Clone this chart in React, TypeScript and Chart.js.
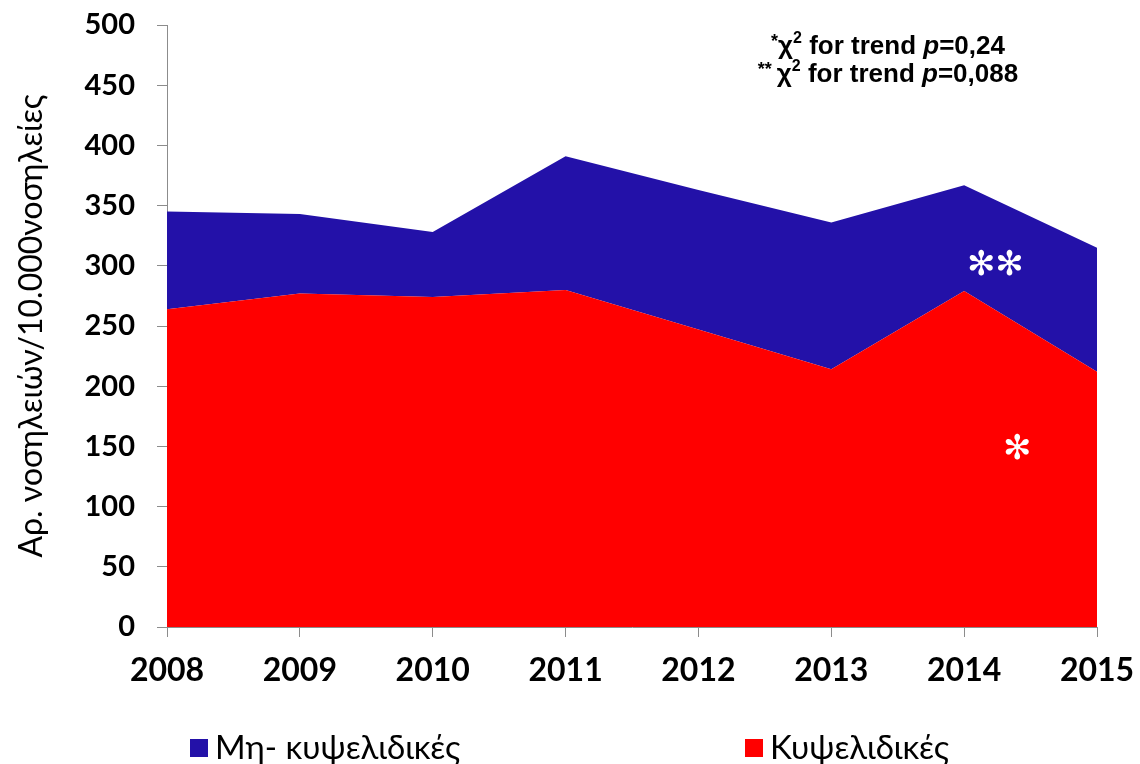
import React, { useEffect, useRef } from "react";
import { Chart, registerables } from "chart.js";

Chart.register(...registerables);

const years = ["2008", "2009", "2010", "2011", "2012", "2013", "2014", "2015"];
// Κυψελιδικές (cellular) – bottom layer
const cellular = [264, 277, 274, 280, 247, 214, 279, 212];
// Μη- κυψελιδικές (non-cellular) – stacked on top
const nonCellular = [81, 66, 54, 111, 116, 122, 88, 103];
const yTicks = [0, 50, 100, 150, 200, 250, 300, 350, 400, 450, 500];

const BLUE = "#2311A8";
const RED = "#FF0000";
const AXIS = "#8c8c8c";

type Seg = { t: string; f: string; dy?: number };

function drawRich(ctx: CanvasRenderingContext2D, segs: Seg[], cx: number, base: number) {
  let total = 0;
  for (const s of segs) {
    ctx.font = s.f;
    total += ctx.measureText(s.t).width;
  }
  let x = cx - total / 2;
  ctx.textAlign = "left";
  ctx.textBaseline = "alphabetic";
  for (const s of segs) {
    ctx.font = s.f;
    ctx.fillText(s.t, x, base + (s.dy || 0));
    x += ctx.measureText(s.t).width;
  }
}

const overlayPlugin = {
  id: "overlay",
  afterDraw(chart: any) {
    const ctx: CanvasRenderingContext2D = chart.ctx;
    const xs = chart.scales.x;
    const ys = chart.scales.y;
    ctx.save();
    // statistics note
    ctx.fillStyle = "#000";
    const B = "bold 26px 'Liberation Sans', Arial, sans-serif";
    const BI = "italic bold 26px 'Liberation Sans', Arial, sans-serif";
    const SUP = "bold 16px 'Liberation Sans', Arial, sans-serif";
    const AST = "bold 18px 'Liberation Sans', Arial, sans-serif";
    drawRich(ctx, [
      { t: "*", f: AST, dy: -7 },
      { t: "χ", f: B },
      { t: "2", f: SUP, dy: -11 },
      { t: " for trend ", f: B },
      { t: "p", f: BI },
      { t: "=0,24", f: B },
    ], 888, 54);
    drawRich(ctx, [
      { t: "** ", f: AST, dy: -7 },
      { t: "χ", f: B },
      { t: "2", f: SUP, dy: -11 },
      { t: " for trend ", f: B },
      { t: "p", f: BI },
      { t: "=0,088", f: B },
    ], 888, 82);

    // white asterisks on the areas
    const x6 = xs.getPixelForValue(6);
    const step = xs.getPixelForValue(7) - x6;
    ctx.fillStyle = "#ffffff";
    ctx.textAlign = "center";
    ctx.textBaseline = "middle";
    ctx.font = "34px 'DejaVu Sans', sans-serif";
    ctx.fillText("✻✻", x6 + step * 0.235, ys.getPixelForValue(300));
    ctx.fillText("✻", x6 + step * 0.4, ys.getPixelForValue(147));

    // legend
    const items = [
      { label: chart.data.datasets[1].label, color: chart.data.datasets[1].backgroundColor, x: 190 },
      { label: chart.data.datasets[0].label, color: chart.data.datasets[0].backgroundColor, x: 745 },
    ];
    ctx.font = "33px Lato, sans-serif";
    ctx.textAlign = "left";
    ctx.textBaseline = "middle";
    for (const it of items) {
      ctx.fillStyle = it.color;
      ctx.fillRect(it.x, 739, 18, 18);
      ctx.fillStyle = "#000";
      ctx.fillText(it.label, it.x + 25, 748);
    }
    ctx.restore();
  },
};

export default function App() {
  const ref = useRef<HTMLCanvasElement | null>(null);
  useEffect(() => {
    document.body.style.margin = "0";
    const canvas = ref.current;
    if (!canvas) return;
    const chart = new Chart(canvas, {
      type: "line",
      data: {
        labels: years,
        datasets: [
          {
            label: "Κυψελιδικές",
            data: cellular,
            backgroundColor: RED,
            borderColor: RED,
            borderWidth: 0,
            pointRadius: 0,
            fill: "origin",
            tension: 0,
          },
          {
            label: "Μη- κυψελιδικές",
            data: nonCellular,
            backgroundColor: BLUE,
            borderColor: BLUE,
            borderWidth: 0,
            pointRadius: 0,
            fill: "-1",
            tension: 0,
          },
        ],
      },
      options: {
        animation: false,
        responsive: true,
        maintainAspectRatio: false,
        layout: { padding: { top: 25, right: 43, bottom: 77, left: 0 } },
        plugins: {
          legend: { display: false },
          tooltip: { enabled: false },
        },
        scales: {
          x: {
            type: "category",
            offset: false,
            grid: { display: true, drawOnChartArea: false, drawTicks: true, tickLength: 10, color: AXIS },
            border: { display: true, color: AXIS, width: 1 },
            ticks: {
              color: "#000",
              padding: 14,
              maxRotation: 0,
              font: { family: "Lato", weight: "bold", size: 32 },
            },
            afterFit(scale: any) {
              scale.height = 60;
              scale.paddingLeft = 0;
              scale.paddingRight = 0;
            },
          },
          y: {
            stacked: true,
            min: 0,
            max: 500,
            afterBuildTicks(scale: any) {
              scale.ticks = yTicks.map((v) => ({ value: v }));
            },
            grid: { display: true, drawOnChartArea: false, drawTicks: true, tickLength: 10, color: AXIS },
            border: { display: true, color: AXIS, width: 1 },
            ticks: {
              color: "#000",
              padding: 22,
              font: { family: "Lato", weight: "bold", size: 29 },
            },
            title: {
              display: true,
              text: "Αρ. νοσηλειών/10.000νοσηλείες",
              color: "#000",
              font: { family: "Lato", size: 32 },
              padding: { top: 12, bottom: 0 },
            },
            afterFit(scale: any) {
              scale.width = 167;
              scale.paddingTop = 0;
              scale.paddingBottom = 0;
            },
          },
        },
      },
      plugins: [overlayPlugin],
    });
    return () => chart.destroy();
  }, []);
  return (
    <div style={{ position: "relative", width: "1140px", height: "764px", background: "#fff" }}>
      <canvas ref={ref} />
    </div>
  );
}
